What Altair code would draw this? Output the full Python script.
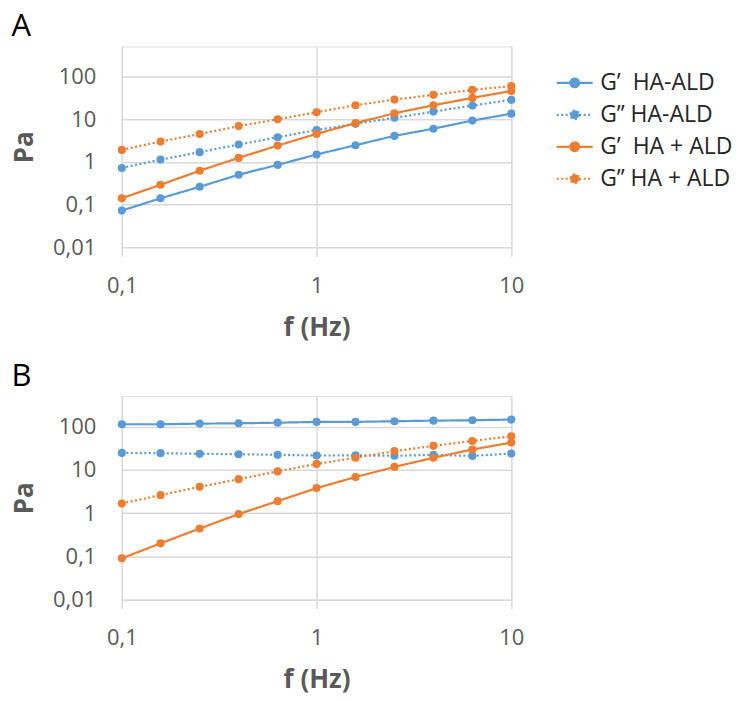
import altair as alt
import pandas as pd

freq = [0.1, 0.158, 0.251, 0.398, 0.631, 1.0, 1.585, 2.512, 3.981, 6.31, 10.0]
series_names = ["G’\u00a0\u00a0HA-ALD", "G’’\u00a0HA-ALD", "G’\u00a0\u00a0HA + ALD", "G’’\u00a0HA + ALD"]
colors = ["#5B9BD5", "#5B9BD5", "#ED7D31", "#ED7D31"]
dashes = [[1, 0], [2, 2.5], [1, 0], [2, 2.5]]

# Panel A
a_gp_hald = [0.072, 0.14, 0.26, 0.50, 0.85, 1.49, 2.46, 4.07, 6.0, 9.3, 13.5]
a_gpp_hald = [0.72, 1.13, 1.69, 2.55, 3.78, 5.6, 7.8, 10.8, 15.1, 20.9, 28.5]
a_gp_ha_ald = [0.14, 0.29, 0.62, 1.24, 2.41, 4.53, 8.1, 13.8, 21.3, 31.6, 46.0]
a_gpp_ha_ald = [1.91, 3.0, 4.5, 6.9, 10.0, 14.6, 21.3, 28.9, 37.3, 48.7, 60.0]

# Panel B
b_gp_hald = [113, 113, 117, 119, 123, 128, 128, 133, 137, 140, 145]
b_gpp_hald = [24.6, 24.3, 23.4, 23.0, 22.2, 21.4, 21.6, 21.1, 22.2, 21.0, 23.8]
b_gp_ha_ald = [0.09, 0.2, 0.44, 0.95, 1.89, 3.78, 6.8, 11.7, 19.0, 29.5, 42.7]
b_gpp_ha_ald = [1.67, 2.6, 4.05, 6.1, 9.2, 13.7, 19.0, 27.0, 35.8, 46.5, 59.8]

x_ticks = [0.1, 1, 10]
y_ticks = [0.01, 0.1, 1, 10, 100]

FONT = "Open Sans"
GRID = "#D9D9D9"
TXT = "#595959"
SYMBOL = "M-1,0H1M0.24,0A0.24,0.24,0,1,1,-0.24,0A0.24,0.24,0,1,1,0.24,0Z"


def make_df(vals):
    rows = []
    for k, (name, v) in enumerate(zip(series_names, vals)):
        for f, y in zip(freq, v):
            rows.append({"f": f, "Pa": y, "series": name, "k": k})
    return pd.DataFrame(rows)


def panel(vals, letter, height, show_legend):
    df = make_df(vals)
    x = alt.X("f:Q", scale=alt.Scale(type="log", domain=[0.1, 10], nice=False),
              axis=alt.Axis(values=x_ticks, title="f (Hz)", grid=True, gridColor=GRID, gridWidth=1.5,
                            ticks=True, tickColor=GRID, tickWidth=1.5, tickSize=9, domain=False,
                            labelFlush=False,
                            labelExpr="replace(toString(datum.value), '.', ',')",
                            labelFont=FONT, labelFontSize=22, labelColor=TXT, labelPadding=19,
                            titleFont=FONT, titleFontSize=26, titleFontWeight="bold", titleColor=TXT,
                            titlePadding=18))
    y = alt.Y("Pa:Q", scale=alt.Scale(type="log", domain=[0.01, 510], nice=False),
              axis=alt.Axis(values=y_ticks, title="Pa", grid=True, gridColor=GRID, gridWidth=1.5,
                            ticks=False, domain=False, labelFlush=False,
                            labelExpr="replace(toString(datum.value), '.', ',')",
                            labelFont=FONT, labelFontSize=22, labelColor=TXT, labelPadding=26,
                            titleFont=FONT, titleFontSize=26, titleFontWeight="bold", titleColor=TXT,
                            titlePadding=15))
    if show_legend:
        leg = alt.Legend(title=None, orient="none", legendX=434, legendY=17, padding=0,
                         symbolType=SYMBOL, symbolSize=1296, symbolStrokeWidth=2.2,
                         labelFont=FONT, labelFontSize=23, labelColor="#262626",
                         labelOffset=6, rowPadding=-3)
    else:
        leg = None
    stroke = alt.Stroke("series:N", scale=alt.Scale(domain=series_names, range=colors), legend=leg)
    dash = alt.StrokeDash("series:N", scale=alt.Scale(domain=series_names, range=dashes), legend=leg)
    fill = alt.Fill("series:N", scale=alt.Scale(domain=series_names, range=colors), legend=leg)

    lines = alt.Chart(df).mark_line(strokeWidth=2.2).encode(
        x=x, y=y, stroke=stroke, strokeDash=dash, detail="series:N", order="f:Q")
    points = alt.Chart(df).mark_point(filled=True, size=66, opacity=1).encode(
        x=x, y=y, fill=fill)
    return alt.layer(lines, points).properties(
        width=390, height=height,
        title=alt.TitleParams(letter, anchor="start", frame="bounds", fontSize=31,
                              fontWeight="normal", font=FONT, color="#000000",
                              baseline="alphabetic", offset=-21))


pa = panel([a_gp_hald, a_gpp_hald, a_gp_ha_ald, a_gpp_ha_ald], "A", 201, True)
pb = panel([b_gp_hald, b_gpp_hald, b_gp_ha_ald, b_gpp_ha_ald], "B", 204, False)

chart = alt.vconcat(pa, pb, spacing=19).resolve_legend(
    stroke="independent", strokeDash="independent", fill="independent"
).properties(
    padding={"left": 3, "top": 2, "right": 0, "bottom": 6}
).configure_view(stroke=None).configure(background="white")

chart.save("out.html", embed_options={"renderer": "svg", "actions": False})
